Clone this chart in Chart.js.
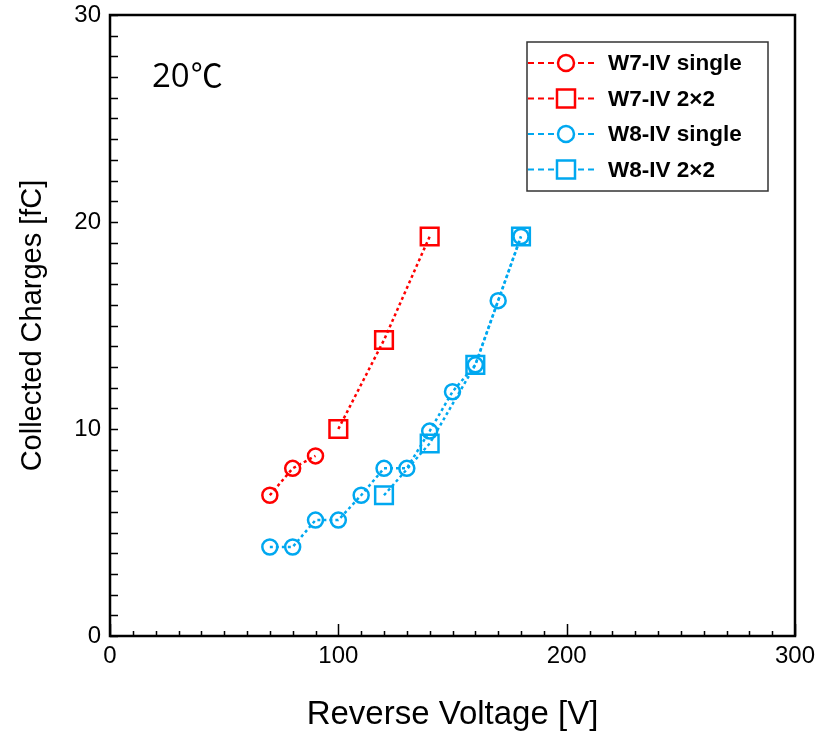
<!DOCTYPE html>
<html>
<head>
<meta charset="utf-8">
<title>Collected Charges vs Reverse Voltage</title>
<script src="https://cdn.jsdelivr.net/npm/chart.js@4.4.1/dist/chart.umd.min.js"></script>
<style>
    body { margin: 0; background: #fff; }
    #wrap { width: 826px; height: 731px; }
</style>
</head>
<body>
<div id="wrap"><canvas id="ivChart" width="826" height="731"></canvas></div>
<script>
// values
const seriesNames = ['W7-IV single', 'W7-IV 2\u00d72', 'W8-IV single', 'W8-IV 2\u00d72'];
const voltageW7Single = [70, 80, 90];
const chargeW7Single = [6.8, 8.1, 8.7];
const voltageW7Quad = [100, 120, 140];
const chargeW7Quad = [10.0, 14.3, 19.3];
const voltageW8Single = [70, 80, 90, 100, 110, 120, 130, 140, 150, 160, 170, 180];
const chargeW8Single = [4.3, 4.3, 5.6, 5.6, 6.8, 8.1, 8.1, 9.9, 11.8, 13.1, 16.2, 19.3];
const voltageW8Quad = [120, 140, 160, 180];
const chargeW8Quad = [6.8, 9.3, 13.1, 19.3];
const xTickValues = [0, 100, 200, 300];
const yTickValues = [0, 10, 20, 30];
const tempValue = '20';
const tempUnit = '\u2103';

document.addEventListener("DOMContentLoaded", () => {
    const RED = '#ff0000';
    const BLUE = '#00a8f0';
    const tickFont = "'Liberation Sans', Arial, sans-serif";

    const toPoints = (xs, ys) => xs.map((x, i) => ({ x: x, y: ys[i] }));

    const makeSet = (label, xs, ys, color, style) => ({
        label: label,
        data: toPoints(xs, ys),
        showLine: true,
        borderColor: color,
        borderWidth: 2.5,
        borderDash: [3, 3],
        pointStyle: style,
        pointRadius: style === 'rect' ? 12.5 : 7.5,
        pointBorderWidth: 2.5,
        pointBorderColor: color,
        pointBackgroundColor: 'rgba(0,0,0,0)'
    });

    // inward ticks, frame, legend box and temperature note
    const decorPlugin = {
        id: 'decor',
        afterDraw(chart) {
            const ctx = chart.ctx;
            const area = chart.chartArea;
            const xs = chart.scales.x;
            const ys = chart.scales.y;
            ctx.save();
            ctx.strokeStyle = '#000';
            ctx.lineWidth = 1.5;
            ctx.beginPath();
            for (let v = 0; v <= 300; v += 10) {
                const px = Math.round(xs.getPixelForValue(v)) + 0.5;
                const len = v % 100 === 0 ? 12 : 5;
                ctx.moveTo(px, area.bottom);
                ctx.lineTo(px, area.bottom - len);
            }
            for (let v = 0; v <= 30; v += 1) {
                const py = Math.round(ys.getPixelForValue(v)) + 0.5;
                ctx.moveTo(area.left, py);
                ctx.lineTo(area.left + 8, py);
            }
            ctx.stroke();

            ctx.lineWidth = 2.5;
            ctx.strokeRect(area.left, area.top, area.right - area.left, area.bottom - area.top);

            // temperature note
            ctx.fillStyle = '#000';
            ctx.textBaseline = 'alphabetic';
            ctx.textAlign = 'left';
            ctx.font = "33px 'Open Sans', sans-serif";
            const tx = area.left + 42;
            const ty = area.top + 72;
            ctx.fillText(tempValue, tx, ty);
            const w = ctx.measureText(tempValue).width;
            ctx.font = "32px 'Noto Sans CJK SC', sans-serif";
            ctx.fillText(tempUnit, tx + w + 1, ty);

            // legend
            const bx = area.right - 268;
            const by = area.top + 27;
            ctx.lineWidth = 1.5;
            ctx.strokeStyle = '#333';
            ctx.strokeRect(bx, by, 241, 149);
            ctx.font = "bold 22.5px 'Liberation Sans', Arial, sans-serif";
            ctx.textBaseline = 'middle';
            chart.data.datasets.forEach((ds, i) => {
                const cy = by + 21 + i * 35.5;
                ctx.strokeStyle = ds.borderColor;
                ctx.lineWidth = 2;
                ctx.setLineDash([6, 4]);
                ctx.beginPath();
                ctx.moveTo(bx + 1, cy);
                ctx.lineTo(bx + 71, cy);
                ctx.stroke();
                ctx.setLineDash([]);
                ctx.lineWidth = 2.5;
                ctx.fillStyle = '#fff';
                ctx.beginPath();
                if (ds.pointStyle === 'rect') {
                    ctx.rect(bx + 30, cy - 9, 18, 18);
                } else {
                    ctx.arc(bx + 39, cy, 8, 0, Math.PI * 2);
                }
                ctx.fill();
                ctx.stroke();
                ctx.fillStyle = '#000';
                ctx.fillText(ds.label, bx + 81, cy + 1);
            });
            ctx.restore();
        }
    };

    new Chart(document.getElementById('ivChart'), {
        type: 'scatter',
        data: {
            datasets: [
                makeSet(seriesNames[0], voltageW7Single, chargeW7Single, RED, 'circle'),
                makeSet(seriesNames[1], voltageW7Quad, chargeW7Quad, RED, 'rect'),
                makeSet(seriesNames[2], voltageW8Single, chargeW8Single, BLUE, 'circle'),
                makeSet(seriesNames[3], voltageW8Quad, chargeW8Quad, BLUE, 'rect')
            ]
        },
        options: {
            responsive: false,
            animation: false,
            events: [],
            layout: { padding: { top: 15, right: 31, left: 0, bottom: 0 } },
            plugins: {
                legend: { display: false },
                tooltip: { enabled: false }
            },
            scales: {
                x: {
                    type: 'linear',
                    min: 0,
                    max: 300,
                    afterFit: (scale) => { scale.height = 95; },
                    afterBuildTicks: (scale) => { scale.ticks = xTickValues.map(v => ({ value: v })); },
                    grid: { display: false, drawTicks: false },
                    border: { display: false },
                    ticks: {
                        color: '#000',
                        padding: 6,
                        maxRotation: 0,
                        font: { family: tickFont, size: 24 }
                    },
                    title: {
                        display: true,
                        text: 'Reverse Voltage [V]',
                        color: '#000',
                        padding: { top: 0, bottom: 0 },
                        font: { family: "'Liberation Sans', Arial, sans-serif", size: 33, lineHeight: 1 }
                    }
                },
                y: {
                    type: 'linear',
                    min: 0,
                    max: 30,
                    afterFit: (scale) => {
                        scale.width = 110;
                        scale.paddingTop = 0;
                        scale.paddingBottom = 0;
                    },
                    afterBuildTicks: (scale) => { scale.ticks = yTickValues.map(v => ({ value: v })); },
                    grid: { display: false, drawTicks: false },
                    border: { display: false },
                    ticks: {
                        color: '#000',
                        padding: 9,
                        font: { family: tickFont, size: 24 }
                    },
                    title: {
                        display: true,
                        text: 'Collected Charges [fC]',
                        color: '#000',
                        padding: { bottom: 0, top: 16 },
                        font: { family: "'Liberation Sans', Arial, sans-serif", size: 29 }
                    }
                }
            }
        },
        plugins: [decorPlugin]
    });
});
</script>
</body>
</html>
